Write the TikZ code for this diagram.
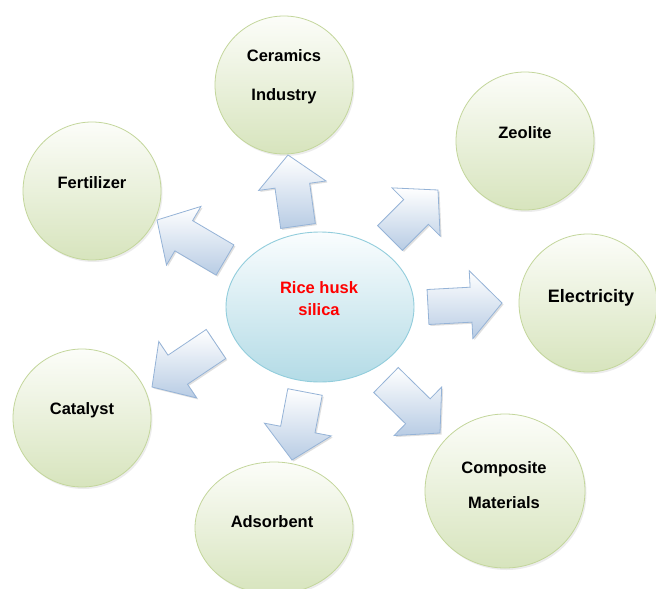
\documentclass[tikz,border=0pt]{standalone}
\usepackage{fontspec}
\setmainfont{Liberation Sans}
\usetikzlibrary{calc,shapes.geometric,shadows}
\definecolor{leafborder}{HTML}{C3D69B}
\definecolor{leaftop}{HTML}{FCFDF9}
\definecolor{leafbot}{HTML}{D7E4BD}
\definecolor{hubborder}{HTML}{92CDDC}
\definecolor{hubtop}{HTML}{FAFDFE}
\definecolor{hubbot}{HTML}{B3DBE6}
\definecolor{arrborder}{HTML}{95B3D7}
\definecolor{arrbot}{HTML}{B8CCE4}
\definecolor{huskred}{HTML}{FF0000}
\newcommand\blockarr[2]{%
  \coordinate (#1h) at ($(#2)!31pt!(#1)$);
  \path[blockarrow]
    ($(#1)!17.5pt!90:(#2)$) -- ($(#1h)!17.5pt!90:(#2)$) -- ($(#1h)!34pt!90:(#2)$)
    -- (#2) -- ($(#1h)!34pt!-90:(#2)$) -- ($(#1h)!17.5pt!-90:(#2)$)
    -- ($(#1)!17.5pt!-90:(#2)$) -- cycle;}
\begin{document}
\begin{tikzpicture}[x=1pt,y=-1pt,
  leaf/.style={ellipse, draw=leafborder, line width=0.8pt, top color=leaftop, bottom color=leafbot,
    inner sep=0pt, minimum width=138pt, minimum height=138pt,
    drop shadow={opacity=0.15, shadow xshift=1.5pt, shadow yshift=-2pt}},
  hub/.style={ellipse, draw=hubborder, line width=0.9pt, top color=hubtop, bottom color=hubbot,
    minimum width=188pt, minimum height=150pt, inner sep=0pt},
  lbl/.style={font=\bfseries\fontsize{16.5}{20}\selectfont, align=center, text=black, inner sep=0pt},
  blockarrow/.style={draw=arrborder, line width=0.8pt, top color=white, bottom color=arrbot,
    drop shadow={opacity=0.25, shadow xshift=1.5pt, shadow yshift=-1.5pt}}]
\useasboundingbox (0,0) rectangle (656,589);
\fill[white] (0,0) rectangle (656,589);

% nodes
\node[hub] (hub) at (320,307) {};
\node[leaf] (cer) at (284,85) {};
\node[leaf] (fer) at (92,191) {};
\node[leaf] (zeo) at (525,141) {};
\node[leaf] (ele) at (588,303) {};
\node[leaf] (cat) at (82,418) {};
\node[leaf, minimum width=158pt, minimum height=132pt] (ads) at (274,528) {};
\node[leaf, minimum width=160pt, minimum height=154pt] (com) at (505,491) {};

% labels
\node[lbl, font=\bfseries\fontsize{16.5}{22}\selectfont, text=huskred] (hubt) at (319,299) {Rice husk\\silica};
\node[lbl, font=\bfseries\fontsize{16.5}{39}\selectfont] (cert) at (284,77) {Ceramics\\Industry};
\node[lbl] (fert) at (92,183) {Fertilizer};
\node[lbl] (zeot) at (525,133) {Zeolite};
\node[lbl, font=\bfseries\fontsize{18}{22}\selectfont] (elet) at (591,298) {Electricity};
\node[lbl] (catt) at (82,410) {Catalyst};
\node[lbl] (adst) at (272,522) {Adsorbent};
\node[lbl, font=\bfseries\fontsize{16.5}{35}\selectfont] (comt) at (504,485) {Composite\\Materials};

% arrow end points
\coordinate (aCs) at (298,226); \coordinate (aCt) at (288,155);
\coordinate (aFs) at (225,260); \coordinate (aFt) at (157,220);
\coordinate (aZs) at (390,238); \coordinate (aZt) at (438,190);
\coordinate (aEs) at (428,307); \coordinate (aEt) at (502,303);
\coordinate (aKs) at (216,344); \coordinate (aKt) at (152,387);
\coordinate (aAs) at (305,392); \coordinate (aAt) at (292,460);
\coordinate (aMs) at (386,380); \coordinate (aMt) at (440,433);

\blockarr{aCs}{aCt}
\blockarr{aFs}{aFt}
\blockarr{aZs}{aZt}
\blockarr{aEs}{aEt}
\blockarr{aKs}{aKt}
\blockarr{aAs}{aAt}
\blockarr{aMs}{aMt}
\end{tikzpicture}
\end{document}
